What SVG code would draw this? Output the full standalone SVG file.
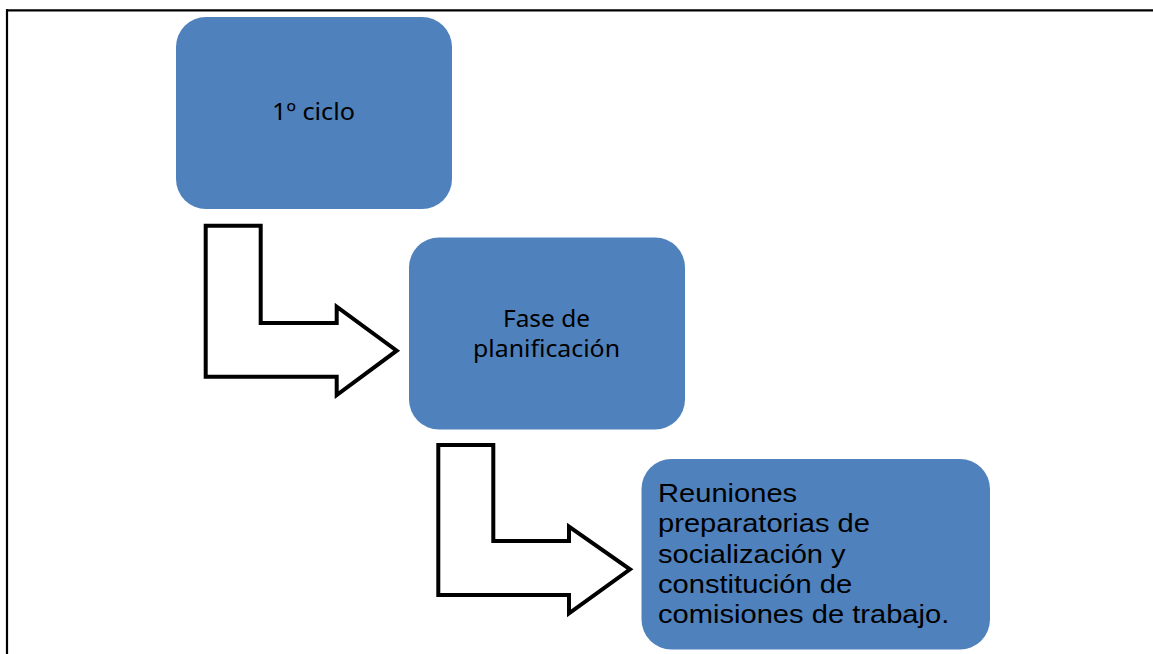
<svg xmlns="http://www.w3.org/2000/svg" width="1153" height="654" viewBox="0 0 1153 654">
<style>
.box{fill:#4F81BD;}
.arr{fill:#fff;stroke:#000;stroke-width:4;stroke-linejoin:miter;}
.cal{font-family:"Noto Sans","Open Sans",sans-serif;font-size:24px;fill:#000;text-anchor:middle;}
.ari{font-family:"Liberation Sans",Arial,sans-serif;font-size:26px;fill:#000;}
</style>
<rect width="1153" height="654" fill="#fff"/>
<g id="frame" stroke="#000" stroke-width="2.2" fill="none">
<line x1="6" y1="10.3" x2="1153" y2="10.3"/>
<line x1="7" y1="9.3" x2="7" y2="654"/>
</g>
<g id="connectors">
<path class="arr" d="M205.7,225.7 L260.7,225.7 L260.7,323 L336.7,323 L336.7,306.7 L396.7,350.7 L336.7,395 L336.7,376.7 L205.7,376.7 Z"/>
<path class="arr" d="M438.3,445 L493.3,445 L493.3,541 L569,541 L569,526.7 L630,569.3 L569,613.3 L569,595 L438.3,595 Z"/>
</g>
<g id="node1">
<rect class="box" x="176" y="17" width="276" height="192" rx="30" ry="30"/>
<text class="cal" x="313.5" y="120" textLength="83" lengthAdjust="spacingAndGlyphs">1º ciclo</text>
</g>
<g id="node2">
<rect class="box" x="409" y="237.5" width="276" height="192" rx="30" ry="30"/>
<text class="cal" x="546.5" y="327" textLength="87" lengthAdjust="spacingAndGlyphs">Fase de</text>
<text class="cal" x="546.5" y="357" textLength="147" lengthAdjust="spacingAndGlyphs">planificación</text>
</g>
<g id="node3">
<rect class="box" x="641.5" y="459" width="348.5" height="190.5" rx="30" ry="30"/>
<g transform="translate(658,0) scale(1.12,1)">
<text class="ari" x="0" y="502">Reuniones</text>
<text class="ari" x="0" y="532.5">preparatorias de</text>
<text class="ari" x="0" y="563">socialización y</text>
<text class="ari" x="0" y="593.5">constitución de</text>
<text class="ari" x="0" y="623.5">comisiones de trabajo.</text>
</g>
</g>
</svg>
